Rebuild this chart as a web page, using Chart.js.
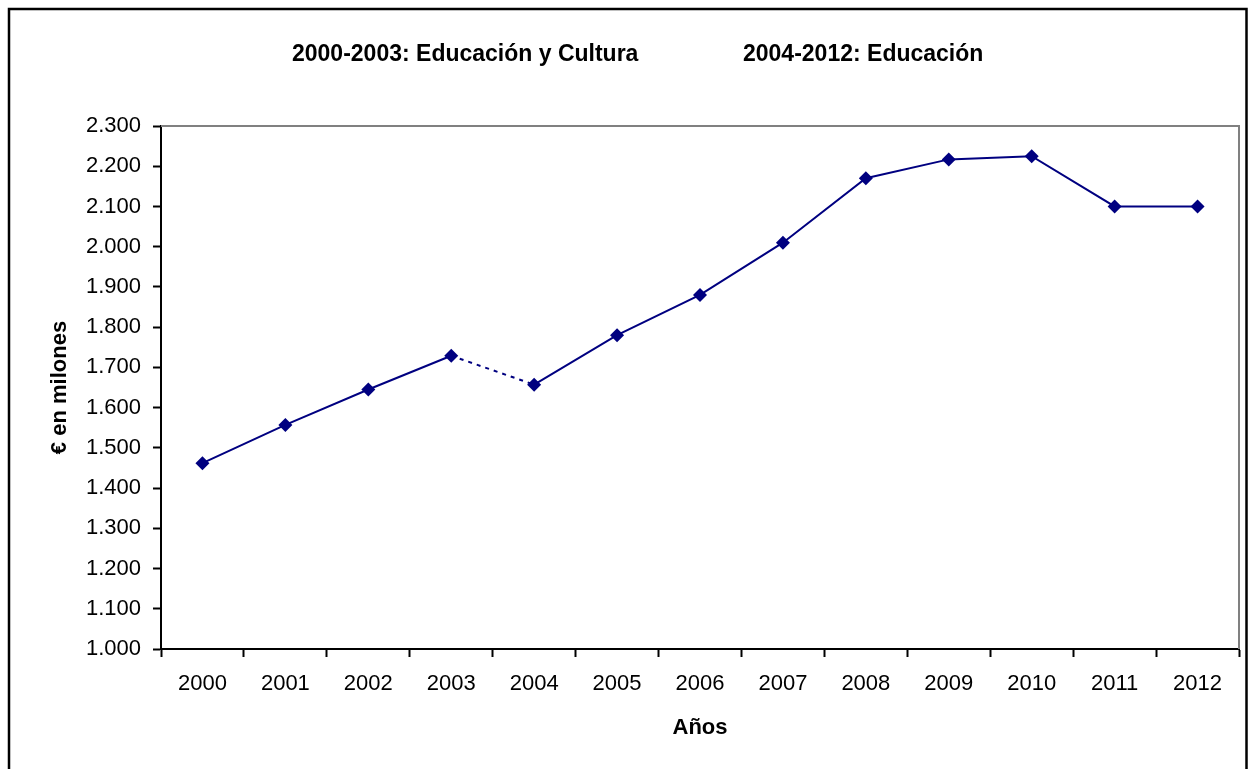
<!DOCTYPE html>
<html>
<head>
<meta charset="utf-8">
<script src="https://cdn.jsdelivr.net/npm/chart.js@4/dist/chart.umd.min.js"></script>
<style>
  html, body { margin: 0; padding: 0; background: #ffffff; }
  #wrap { width: 1248px; height: 769px; position: relative; }
</style>
</head>
<body>
<div id="wrap"><canvas id="c" width="1248" height="769"></canvas></div>
<script>
const years = ['2000','2001','2002','2003','2004','2005','2006','2007','2008','2009','2010','2011','2012'];
const gasto = [1462, 1557, 1645, 1729, 1657, 1780, 1880, 2010, 2170, 2217, 2225, 2100, 2100];
const titleParts = ['2000-2003: Educación y Cultura', '2004-2012: Educación'];
const yTitle = '€ en milones';
const xTitle = 'Años';
const yMin = 1000, yMax = 2300, yStep = 100;
const dashedAfterIndex = 3; // segment 2003 -> 2004 is dashed

const FONT = "'Liberation Sans', Arial, sans-serif";
const NAVY = '#000080';

const framePlugin = {
  id: 'frame',
  beforeDraw(chart) {
    const ctx = chart.ctx;
    ctx.save();
    ctx.fillStyle = '#ffffff';
    ctx.fillRect(0, 0, chart.width, chart.height);
    ctx.restore();
  },
  afterDraw(chart) {
    const ctx = chart.ctx;
    const a = chart.chartArea;
    ctx.save();
    // outer frame
    ctx.strokeStyle = '#000000';
    ctx.lineWidth = 2.5;
    ctx.beginPath();
    ctx.moveTo(9, chart.height + 2);
    ctx.lineTo(9, 9);
    ctx.lineTo(1246.5, 9);
    ctx.lineTo(1246.5, chart.height + 2);
    ctx.stroke();
    // plot area top/right border (gray)
    ctx.strokeStyle = '#808080';
    ctx.lineWidth = 2;
    ctx.beginPath();
    ctx.moveTo(a.left, a.top);
    ctx.lineTo(a.right, a.top);
    ctx.lineTo(a.right, a.bottom);
    ctx.stroke();
    // title
    ctx.fillStyle = '#000000';
    ctx.font = 'bold 23px ' + FONT;
    ctx.textBaseline = 'middle';
    ctx.textAlign = 'left';
    ctx.fillText(titleParts[0], 292, 55);
    ctx.fillText(titleParts[1], 743, 55);
    ctx.restore();
  }
};

new Chart(document.getElementById('c'), {
  type: 'line',
  data: {
    labels: years,
    datasets: [{
      data: gasto,
      borderColor: NAVY,
      backgroundColor: NAVY,
      borderWidth: 2,
      pointStyle: 'rectRot',
      pointRadius: 7,
      pointHoverRadius: 7,
      pointBackgroundColor: NAVY,
      pointBorderColor: NAVY,
      pointBorderWidth: 0,
      tension: 0,
      fill: false,
      segment: {
        borderDash: ctx => ctx.p0DataIndex === dashedAfterIndex ? [4, 5] : undefined
      }
    }]
  },
  options: {
    responsive: false,
    animation: false,
    devicePixelRatio: 1,
    layout: { padding: { top: 126, right: 9, left: 0, bottom: 0 } },
    plugins: {
      legend: { display: false },
      title: { display: false },
      tooltip: { enabled: false }
    },
    scales: {
      x: {
        type: 'category',
        offset: true,
        afterFit(scale) { scale.height = 120; },
        grid: {
          display: true,
          offset: true,
          drawOnChartArea: false,
          drawTicks: true,
          tickLength: 8,
          tickWidth: 2,
          tickColor: '#000000'
        },
        border: { display: true, color: '#000000', width: 2 },
        ticks: {
          color: '#000000',
          font: { family: FONT, size: 22 },
          padding: 14,
          maxRotation: 0,
          autoSkip: false
        },
        title: {
          display: true,
          text: xTitle,
          color: '#000000',
          font: { family: FONT, size: 22, weight: 'bold' },
          padding: { top: 0, bottom: 28 }
        }
      },
      y: {
        min: yMin,
        max: yMax,
        afterFit(scale) { scale.width = 161; },
        afterBuildTicks(scale) {
          const t = [];
          for (let v = yMin; v <= yMax; v += yStep) t.push({ value: v });
          scale.ticks = t;
        },
        grid: {
          display: true,
          drawOnChartArea: false,
          drawTicks: true,
          tickLength: 8,
          tickWidth: 2,
          tickColor: '#000000'
        },
        border: { display: true, color: '#000000', width: 2 },
        ticks: {
          color: '#000000',
          font: { family: FONT, size: 22 },
          padding: 12,
          callback: v => String(v).replace(/\B(?=(\d{3})+(?!\d))/g, '.')
        },
        title: {
          display: true,
          text: yTitle,
          color: '#000000',
          font: { family: FONT, size: 22, weight: 'bold' },
          padding: { top: 47, bottom: 0 }
        }
      }
    }
  },
  plugins: [framePlugin]
});
</script>
</body>
</html>
